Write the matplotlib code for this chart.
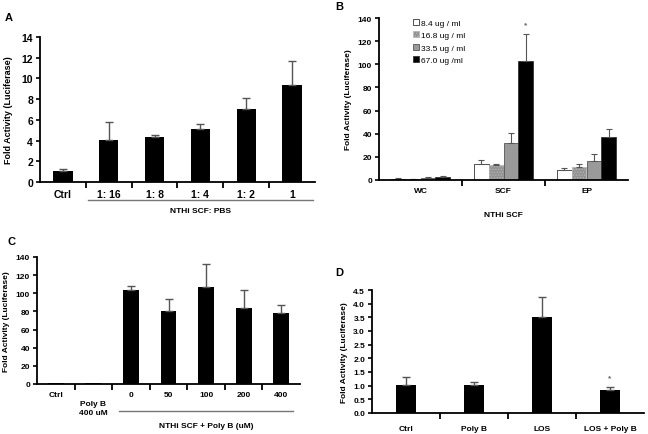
import matplotlib
matplotlib.use("Agg")
import matplotlib.pyplot as plt
import numpy as np
from matplotlib.transforms import blended_transform_factory

plt.rcParams['font.family'] = ['Liberation Sans', 'DejaVu Sans']
plt.rcParams['font.weight'] = 'bold'
plt.rcParams['hatch.linewidth'] = 0.6

# Panel A
a_cats = ["Ctrl", "1: 16", "1: 8", "1: 4", "1: 2", "1"]
a_vals = [1.05, 4.1, 4.35, 5.15, 7.05, 9.4]
a_errs = [0.22, 1.7, 0.15, 0.42, 1.1, 2.3]

# Panel B
b_groups = ["WC", "SCF", "EP"]
b_series = ["8.4 ug / ml", "16.8 ug / ml", "33.5 ug / ml", "67.0 ug /ml"]
b_vals = [[0.8, 14.1, 9.0],
          [0.7, 13.0, 11.5],
          [2.0, 32.3, 16.7],
          [2.8, 102.5, 37.0]]
b_errs = [[0.7, 2.8, 1.7],
          [0.3, 1.0, 2.6],
          [0.5, 8.7, 5.5],
          [0.5, 24.0, 6.8]]

# Panel C
c_cats = ["Ctrl", "Poly B\n400 uM", "0", "50", "100", "200", "400"]
c_vals = [1.0, 1.0, 103.5, 80.5, 107.0, 84.0, 78.5]
c_errs = [0.0, 0.0, 4.5, 13.0, 25.5, 19.5, 9.0]

# Panel D
d_cats = ["Ctrl", "Poly B", "LOS", "LOS + Poly B"]
d_vals = [1.01, 1.01, 3.52, 0.84]
d_errs = [0.30, 0.11, 0.71, 0.10]

W, H = 648, 435
fig = plt.figure(figsize=(W / 100, H / 100), dpi=100)


def add_ax(l, r, t, b):
    return fig.add_axes([l / W, 1 - b / H, (r - l) / W, (b - t) / H])


def style(ax, fs, n):
    for s in ["top", "right"]:
        ax.spines[s].set_visible(False)
    for s in ["left", "bottom"]:
        ax.spines[s].set_linewidth(1.3)
    ax.set_xticks(np.arange(0.5, n - 0.5, 1), minor=True)
    ax.tick_params(axis="y", direction="out", length=3, width=1.2, labelsize=fs, pad=2)
    ax.tick_params(axis="x", which="major", length=0, labelsize=fs, pad=5)
    ax.tick_params(axis="x", which="minor", direction="out", length=4, width=1.3,
                   bottom=True, color="black")
    for lab in ax.get_yticklabels() + ax.get_xticklabels():
        lab.set_fontweight("bold")


# ---------- A ----------
axA = add_ax(40, 315, 38, 183)
xa = np.arange(len(a_cats))
axA.bar(xa, a_vals, width=0.42, color="black", zorder=2)
axA.errorbar(xa, a_vals, yerr=[np.zeros(len(a_errs)), a_errs], fmt="none",
             ecolor="#555555", elinewidth=1, capsize=3, capthick=1)
axA.set_xlim(-0.5, len(a_cats) - 0.5)
axA.set_ylim(0, 14)
axA.set_yticks(np.arange(0, 15, 2))
axA.set_xticks(xa)
axA.set_xticklabels(a_cats)
axA.set_ylabel("Fold Activity (Luciferase)", fontsize=6.5, fontweight="bold", labelpad=6)
style(axA, 7.5, len(a_cats))
tr = blended_transform_factory(axA.transData, axA.transAxes)
axA.plot([0.55, 5.45], [-0.125, -0.125], color="#777777", lw=1, transform=tr, clip_on=False)
axA.text(3.0, -0.2, "NTHi SCF: PBS", transform=tr, ha="center", va="center",
         fontsize=6, fontweight="bold")
fig.text(5 / W, 1 - 18 / H, "A", fontsize=8, fontweight="bold", va="center")

# ---------- B ----------
axB = add_ax(379, 628, 19, 181)
xb = np.arange(len(b_groups))
bw = 0.18
colors = ["white", "#929292", "#9a9a9a", "black"]
edges = ["#333333", "#b8b8b8", "#555555", "#333333"]
hatches = [None, "......", None, None]
for i, (vals, errs) in enumerate(zip(b_vals, b_errs)):
    pos = xb + (i - 1.5) * bw
    axB.bar(pos, vals, width=bw, color=colors[i], edgecolor=edges[i], linewidth=0.6,
            hatch=hatches[i], label=b_series[i], zorder=2)
    axB.errorbar(pos, vals, yerr=[np.zeros(len(errs)), errs], fmt="none",
                 ecolor="#555555", elinewidth=0.8, capsize=2.5, capthick=0.8)
axB.text(xb[1] + 1.5 * bw, 134, "*", ha="center", va="center", fontsize=6, color="#666666")
axB.set_xlim(-0.5, len(b_groups) - 0.5)
axB.set_ylim(0, 140)
axB.set_yticks(np.arange(0, 141, 20))
axB.set_xticks(xb)
axB.set_xticklabels(b_groups)
axB.set_ylabel("Fold Activity (Luciferase)", fontsize=6, fontweight="bold", labelpad=4)
axB.set_xlabel("NTHi SCF", fontsize=6, fontweight="bold", labelpad=12)
style(axB, 6, len(b_groups))
leg = axB.legend(loc="upper left", bbox_to_anchor=(0.12, 1.02), frameon=False,
                 fontsize=6, handlelength=0.7, handleheight=0.7, handletextpad=0.3,
                 labelspacing=0.55, borderpad=0)
for t in leg.get_texts():
    t.set_fontweight("normal")
fig.text(335 / W, 1 - 7 / H, "B", fontsize=8, fontweight="bold", va="center")

# ---------- C ----------
axC = add_ax(37, 300, 258, 385)
xc = np.arange(len(c_cats))
axC.bar(xc, c_vals, width=0.42, color="black", zorder=2)
mask = np.array(c_errs) > 0
axC.errorbar(xc[mask], np.array(c_vals)[mask],
             yerr=[np.zeros(mask.sum()), np.array(c_errs)[mask]], fmt="none",
             ecolor="#555555", elinewidth=1, capsize=3, capthick=1)
axC.set_xlim(-0.5, len(c_cats) - 0.5)
axC.set_ylim(0, 140)
axC.set_yticks(np.arange(0, 141, 20))
axC.set_xticks(xc)
axC.set_xticklabels([c if "\n" not in c else "" for c in c_cats])
axC.set_ylabel("Fold Activity (Luciferase)", fontsize=6, fontweight="bold", labelpad=4)
style(axC, 6, len(c_cats))
trc = blended_transform_factory(axC.transData, axC.transAxes)
axC.text(1, -0.19, c_cats[1], transform=trc, ha="center", va="center",
         fontsize=6, fontweight="bold", linespacing=1.3)
axC.plot([1.68, 6.32], [-0.213, -0.213], color="#777777", lw=1, transform=trc, clip_on=False)
axC.text(4.0, -0.325, "NTHi SCF + Poly B (uM)", transform=trc, ha="center", va="center",
         fontsize=6, fontweight="bold")
fig.text(8 / W, 1 - 242 / H, "C", fontsize=8, fontweight="bold", va="center")

# ---------- D ----------
axD = add_ax(372, 644, 291, 414)
xd = np.arange(len(d_cats))
axD.bar(xd, d_vals, width=0.28, color="black", zorder=2)
axD.errorbar(xd, d_vals, yerr=[np.zeros(len(d_errs)), d_errs], fmt="none",
             ecolor="#555555", elinewidth=1, capsize=3, capthick=1)
axD.text(xd[3], 1.3, "*", ha="center", va="center", fontsize=6, color="#666666")
axD.set_xlim(-0.5, len(d_cats) - 0.5)
axD.set_ylim(0, 4.5)
axD.set_yticks(np.arange(0, 4.51, 0.5))
axD.yaxis.set_major_formatter(matplotlib.ticker.FormatStrFormatter("%.1f"))
axD.set_xticks(xd)
axD.set_xticklabels(d_cats)
axD.set_ylabel("Fold Activity (Luciferase)", fontsize=6, fontweight="bold", labelpad=4)
style(axD, 6, len(d_cats))
axD.tick_params(axis="x", which="major", pad=9)
fig.text(335 / W, 1 - 273 / H, "D", fontsize=8, fontweight="bold", va="center")

fig.savefig("out.png", dpi=100)
